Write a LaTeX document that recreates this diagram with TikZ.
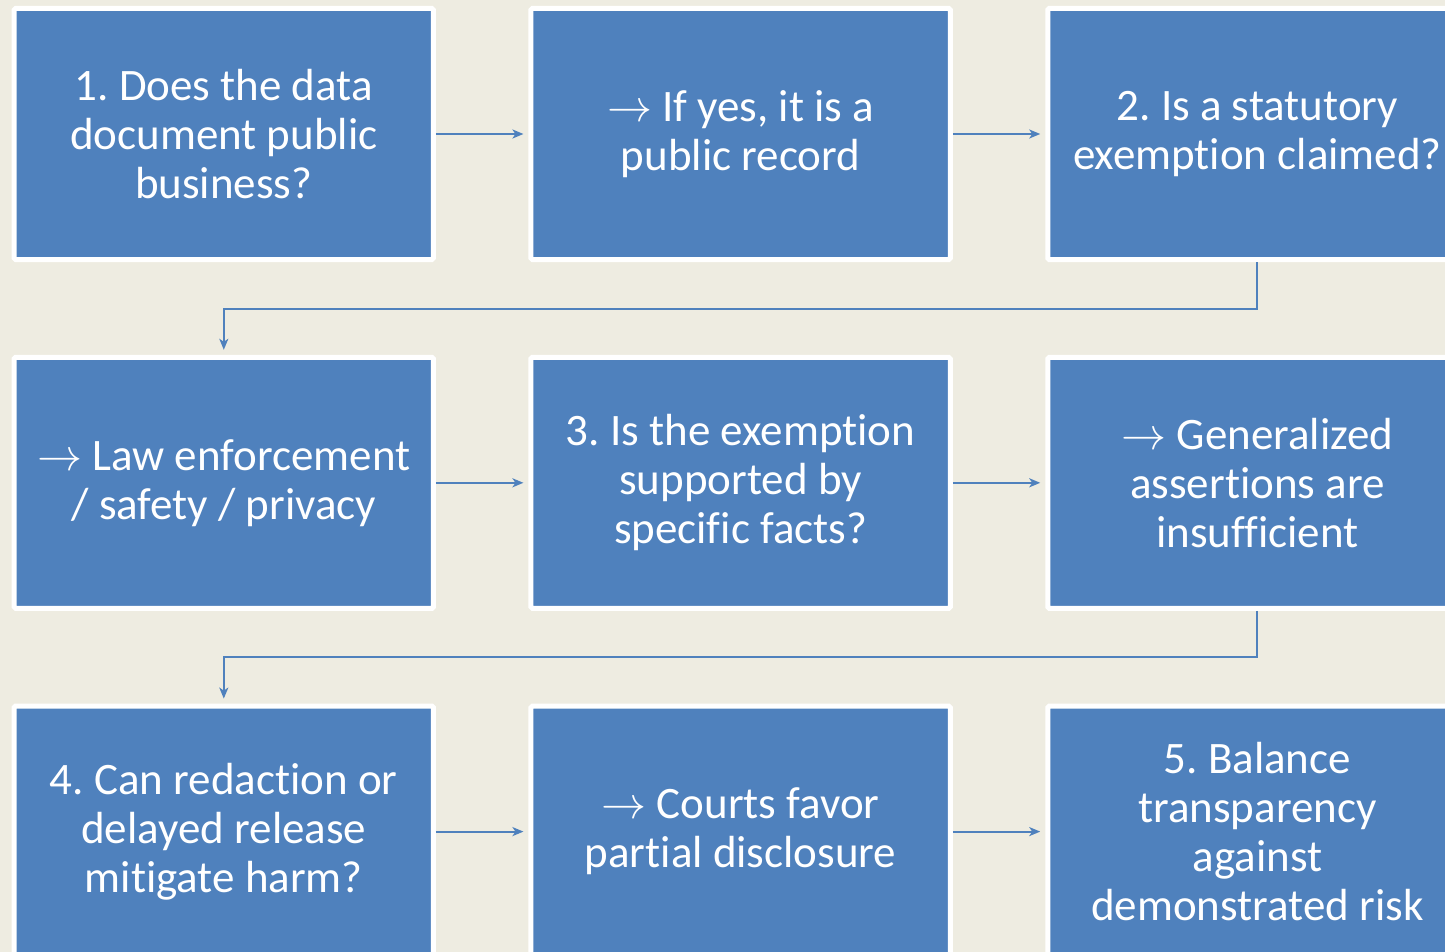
\RequirePackage{fix-cm}
\documentclass[tikz,border=0pt]{standalone}
\usepackage{fontspec}
\setmainfont{Carlito}[Ligatures={NoCommon}]
\usetikzlibrary{arrows.meta}
\definecolor{stepblue}{HTML}{4F81BD}
\definecolor{paper}{HTML}{EEECE1}
\frenchspacing
\begin{document}
\begin{tikzpicture}[x=1pt,y=-1pt,
  stepbox/.style={rectangle, draw=white, line width=5pt, fill=stepblue,
    rounded corners=1.5pt, minimum width=419.3pt, minimum height=251pt,
    text=white, align=center, inner sep=0pt,
    font=\fontsize{45}{49}\selectfont},
  link/.style={draw=stepblue, line width=2pt,
    -{Stealth[length=11pt,width=9pt,inset=3pt]}, shorten >=5pt}]
  \fill[paper] (0,0) rectangle (1445,952);
  \useasboundingbox (0,0) rectangle (1445,952);

  % row 1
  \node[stepbox] (b1) at (223.8,134) {1. Does the data\\document public\\business?};
  \node[stepbox] (b2) at (740.6,134) {$\rightarrow$ If yes, it is a\\public record};
  \node[stepbox] (b3) at (1257.4,134) {2. Is a statutory\\exemption claimed?};
  % row 2
  \node[stepbox] (b4) at (223.8,482.8) {$\rightarrow$ Law enforcement\\/ safety / privacy};
  \node[stepbox] (b5) at (740.6,482.8) {3. Is the exemption\\supported by\\specific facts?};
  \node[stepbox] (b6) at (1257.4,482.8) {$\rightarrow$ Generalized\\assertions are\\insufficient};
  % row 3
  \node[stepbox] (b7) at (223.8,831.6) {4. Can redaction or\\delayed release\\mitigate harm?};
  \node[stepbox] (b8) at (740.6,831.6) {$\rightarrow$ Courts favor\\partial disclosure};
  \node[stepbox] (b9) at (1257.4,831.6) {5. Balance\\transparency\\against\\demonstrated risk};

  % connectors within rows
  \draw[link] (b1) -- (b2);
  \draw[link] (b2) -- (b3);
  \draw[link] (b4) -- (b5);
  \draw[link] (b5) -- (b6);
  \draw[link] (b7) -- (b8);
  \draw[link] (b8) -- (b9);

  % elbow connectors between rows
  \draw[link] (b3.south) -- ++(0,46.5) -| (b4.north);
  \draw[link] (b6.south) -- ++(0,46.5) -| (b7.north);
\end{tikzpicture}
\end{document}
